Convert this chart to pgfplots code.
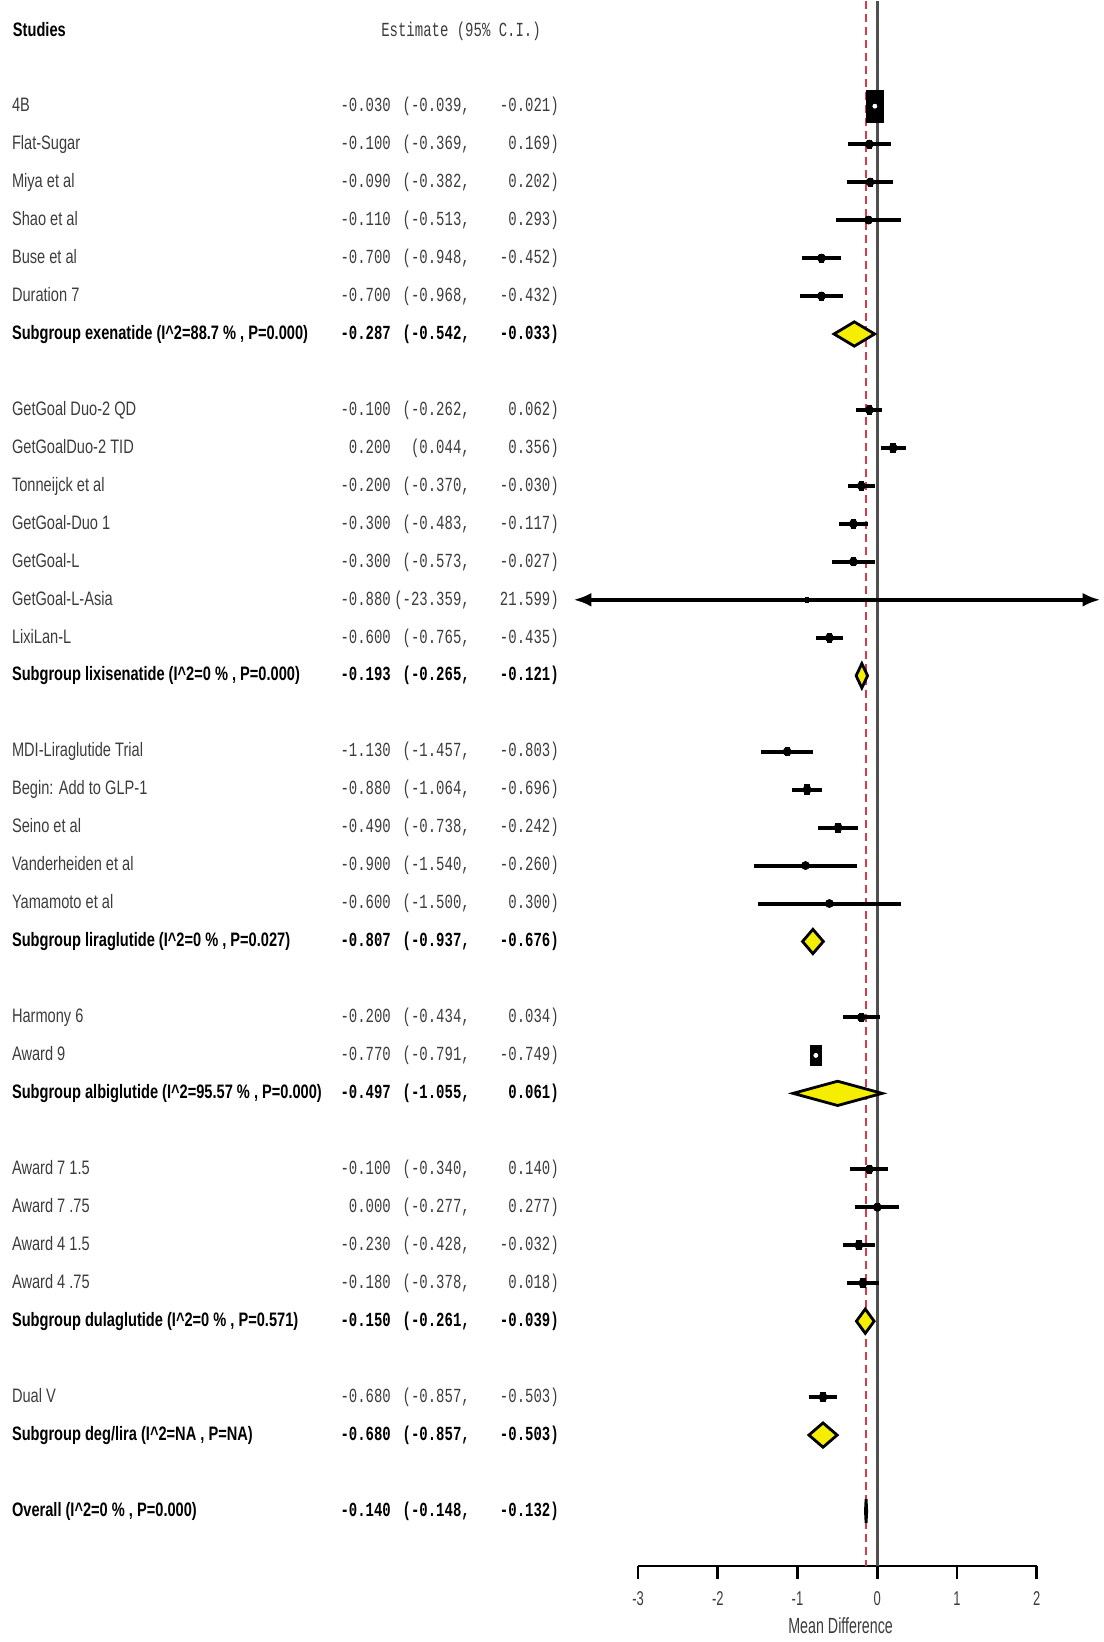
\documentclass[border=0pt]{standalone}
\usepackage{fontspec}
\setmainfont{Liberation Sans}[FakeStretch=0.75]
\newfontfamily\monofont{Liberation Mono}[FakeStretch=0.70]
\newfontfamily\axisfont{Liberation Sans}[FakeStretch=0.65]
\usepackage{pgfplots}
\pgfplotsset{compat=1.18}
\usepackage{pgfplotstable}
\usetikzlibrary{arrows.meta}
\definecolor{dyellow}{RGB}{245,238,0}
\definecolor{txtgray}{RGB}{60,60,60}
\definecolor{refred}{RGB}{215,60,70}
\definecolor{zerogray}{RGB}{80,80,80}

% k = row index from the top (4B = 0), ms = half height of the square (bp)
\pgfplotstableread{
k  est     lo      hi     ms
0  -0.030  -0.039  -0.021 8
1  -0.100  -0.369  0.169  2
2  -0.090  -0.382  0.202  2
3  -0.110  -0.513  0.293  1.8
4  -0.700  -0.948  -0.452 2
5  -0.700  -0.968  -0.432 2
8  -0.100  -0.262  0.062  2.2
9  0.200   0.044   0.356  2.2
10 -0.200  -0.370  -0.030 2.2
11 -0.300  -0.483  -0.117 2.2
12 -0.300  -0.573  -0.027 2
14 -0.600  -0.765  -0.435 2.3
17 -1.130  -1.457  -0.803 2
18 -0.880  -1.064  -0.696 2.5
19 -0.490  -0.738  -0.242 2.2
20 -0.900  -1.540  -0.260 1.3
21 -0.600  -1.500  0.300  1.2
24 -0.200  -0.434  0.034  2
25 -0.770  -0.791  -0.749 5.25
28 -0.100  -0.340  0.140  2
29 0.000   -0.277  0.277  1.8
30 -0.230  -0.428  -0.032 2.2
31 -0.180  -0.378  0.018  2.2
34 -0.680  -0.857  -0.503 2.3
}\studies

% text columns (in axis x units): names left, estimate right, lower right, upper right
\def\xname{-10.857}
\def\xest{-6.095}
\def\xlo{-5.105}
\def\xhi{-3.990}
\tikzset{
  nametxt/.style={anchor=mid west,inner sep=0pt,text=txtgray,font=\fontsize{9.75bp}{11bp}\selectfont},
  numtxt/.style={anchor=mid east,inner sep=0pt,text=txtgray,font=\monofont\fontsize{10bp}{11bp}\selectfont},
  bnametxt/.style={anchor=mid west,inner sep=0pt,text=black,font=\bfseries\fontsize{9.75bp}{11bp}\selectfont},
  bnumtxt/.style={anchor=mid east,inner sep=0pt,text=black,font=\monofont\bfseries\fontsize{10bp}{11bp}\selectfont},
}
\newcommand\srow[5]{%
  \node[nametxt] at (axis cs:\xname,-#1) {#2};
  \node[numtxt] at (axis cs:\xest,-#1) {#3};
  \node[numtxt] at (axis cs:\xlo,-#1) {(#4,};
  \node[numtxt] at (axis cs:\xhi,-#1) {#5)};
}
\newcommand\grow[5]{%
  \node[bnametxt] at (axis cs:\xname,-#1) {#2};
  \node[bnumtxt] at (axis cs:\xest,-#1) {#3};
  \node[bnumtxt] at (axis cs:\xlo,-#1) {(#4,};
  \node[bnumtxt] at (axis cs:\xhi,-#1) {#5)};
}
\newcommand\Isq{I\textasciicircum 2}

\begin{document}
\begin{tikzpicture}
\begin{axis}[
  scale only axis, width=199.5bp, height=783bp,
  xmin=-3, xmax=2, ymin=-38.447, ymax=2.763,
  clip=false,
  axis x line*=bottom, axis y line=none,
  axis line style={line width=1.3bp},
  xtick={-3,-2,-1,0,1,2},
  tick align=outside, major tick length=6.5bp,
  every tick/.style={black,line width=1.3bp},
  xticklabel style={font=\axisfont\fontsize{10bp}{12bp}\selectfont, text=txtgray, yshift=-3bp},
  /pgf/number format/assume math mode=true,
]
% picture frame (invisible), giving the reference's proportions
\path[draw=none] (axis cs:-11.003,2.763) rectangle (axis cs:2.84,-40.45);

% reference lines
\addplot[zerogray, line width=1.3bp] coordinates {(0,2.763) (0,-38.447)};
\addplot[refred, line width=1bp, dash pattern=on 4bp off 2.5bp] coordinates {(-0.140,2.763) (-0.140,-38.447)};

% study confidence intervals
\addplot[black, only marks, mark=none,
  error bars/.cd, x dir=both, x explicit, error mark=none,
  error bar style={line width=2bp, black}]
  table[x=est, y expr=-\thisrow{k},
        x error plus expr=\thisrow{hi}-\thisrow{est},
        x error minus expr=\thisrow{est}-\thisrow{lo}] {\studies};

% GetGoal-L-Asia: CI beyond the plotted range (-23.359, 21.599), drawn with arrows
\addplot[black, line width=2bp, {Latex[length=9bp,width=7bp]}-{Latex[length=9bp,width=7bp]}] coordinates {(-3.81,-13) (2.80,-13)};
\addplot[black, only marks, mark=square*, mark size=1.2bp, mark options={xscale=0.53}] coordinates {(-0.880,-13)};

% study squares
\addplot[scatter, only marks, mark=square*,
  scatter/use mapped color={draw=black, fill=black},
  visualization depends on={\thisrow{ms} \as \perpointmarksize},
  scatter/@pre marker code/.append style={/tikz/mark size=\perpointmarksize},
  mark options={xscale=0.53}]
  table[x=est, y expr=-\thisrow{k}] {\studies};
\addplot[white, only marks, mark=*, mark size=1bp] coordinates {(-0.030,0) (-0.770,-25)};

% subgroup and overall diamonds
\addplot[fill=dyellow, draw=black, line width=1.4bp] coordinates {(-0.542,-6) (-0.287,-5.68) (-0.033,-6) (-0.287,-6.32)} -- cycle;
\addplot[fill=dyellow, draw=black, line width=1.4bp] coordinates {(-0.265,-15) (-0.193,-14.68) (-0.121,-15) (-0.193,-15.32)} -- cycle;
\addplot[fill=dyellow, draw=black, line width=1.4bp] coordinates {(-0.937,-22) (-0.807,-21.68) (-0.676,-22) (-0.807,-22.32)} -- cycle;
\addplot[fill=dyellow, draw=black, line width=1.4bp] coordinates {(-1.055,-26) (-0.497,-25.68) (0.061,-26) (-0.497,-26.32)} -- cycle;
\addplot[fill=dyellow, draw=black, line width=1.4bp] coordinates {(-0.261,-32) (-0.150,-31.68) (-0.039,-32) (-0.150,-32.32)} -- cycle;
\addplot[fill=dyellow, draw=black, line width=1.4bp] coordinates {(-0.857,-35) (-0.680,-34.68) (-0.503,-35) (-0.680,-35.32)} -- cycle;
\addplot[fill=dyellow, draw=black, line width=1.4bp] coordinates {(-0.148,-37) (-0.140,-36.68) (-0.132,-37) (-0.140,-37.32)} -- cycle;

% axis title
\node[anchor=mid, inner sep=0pt, text=txtgray, font=\axisfont\fontsize{11bp}{12bp}\selectfont] at (axis cs:-0.46,-40.08) {Mean Difference};

% header
\node[bnametxt, text=black] at (axis cs:-10.845,1.97) {Studies};
\node[numtxt] at (axis cs:-4.215,1.97) {Estimate (95\% C.I.)};

% rows
\srow{0}{4B}{-0.030}{-0.039}{-0.021}
\srow{1}{Flat-Sugar}{-0.100}{-0.369}{0.169}
\srow{2}{Miya et al}{-0.090}{-0.382}{0.202}
\srow{3}{Shao et al}{-0.110}{-0.513}{0.293}
\srow{4}{Buse et al}{-0.700}{-0.948}{-0.452}
\srow{5}{Duration 7}{-0.700}{-0.968}{-0.432}
\grow{6}{Subgroup exenatide (\Isq=88.7 \% , P=0.000)}{-0.287}{-0.542}{-0.033}
\srow{8}{GetGoal Duo-2 QD}{-0.100}{-0.262}{0.062}
\srow{9}{GetGoalDuo-2 TID}{0.200}{0.044}{0.356}
\srow{10}{Tonneijck et al}{-0.200}{-0.370}{-0.030}
\srow{11}{GetGoal-Duo 1}{-0.300}{-0.483}{-0.117}
\srow{12}{GetGoal-L}{-0.300}{-0.573}{-0.027}
\srow{13}{GetGoal-L-Asia}{-0.880}{-23.359}{21.599}
\srow{14}{LixiLan-L}{-0.600}{-0.765}{-0.435}
\grow{15}{Subgroup lixisenatide (\Isq=0 \% , P=0.000)}{-0.193}{-0.265}{-0.121}
\srow{17}{MDI-Liraglutide Trial}{-1.130}{-1.457}{-0.803}
\srow{18}{Begin: Add to GLP-1}{-0.880}{-1.064}{-0.696}
\srow{19}{Seino et al}{-0.490}{-0.738}{-0.242}
\srow{20}{Vanderheiden et al}{-0.900}{-1.540}{-0.260}
\srow{21}{Yamamoto et al}{-0.600}{-1.500}{0.300}
\grow{22}{Subgroup liraglutide (\Isq=0 \% , P=0.027)}{-0.807}{-0.937}{-0.676}
\srow{24}{Harmony 6}{-0.200}{-0.434}{0.034}
\srow{25}{Award 9}{-0.770}{-0.791}{-0.749}
\grow{26}{Subgroup albiglutide (\Isq=95.57 \% , P=0.000)}{-0.497}{-1.055}{0.061}
\srow{28}{Award 7 1.5}{-0.100}{-0.340}{0.140}
\srow{29}{Award 7 .75}{0.000}{-0.277}{0.277}
\srow{30}{Award 4 1.5}{-0.230}{-0.428}{-0.032}
\srow{31}{Award 4 .75}{-0.180}{-0.378}{0.018}
\grow{32}{Subgroup dulaglutide (\Isq=0 \% , P=0.571)}{-0.150}{-0.261}{-0.039}
\srow{34}{Dual V}{-0.680}{-0.857}{-0.503}
\grow{35}{Subgroup deg/lira (\Isq=NA , P=NA)}{-0.680}{-0.857}{-0.503}
\grow{37}{Overall (\Isq=0 \% , P=0.000)}{-0.140}{-0.148}{-0.132}
\end{axis}
\end{tikzpicture}
\end{document}
